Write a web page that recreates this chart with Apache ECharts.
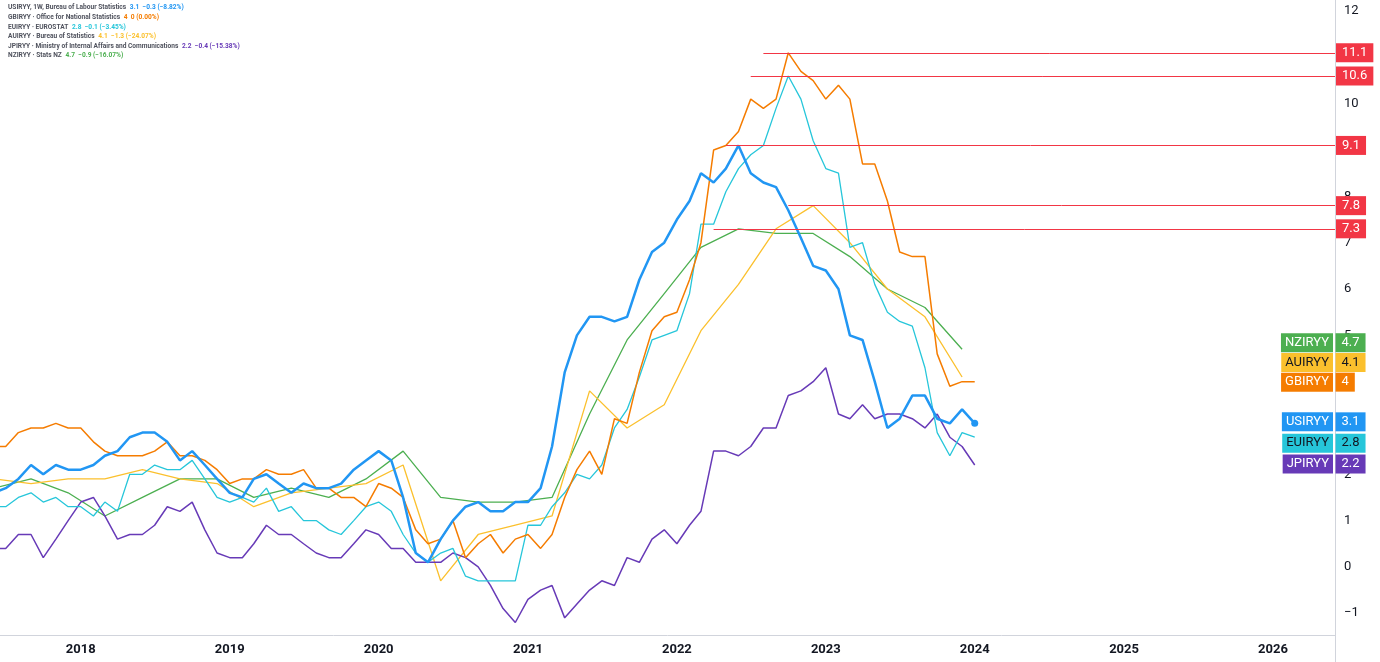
<!DOCTYPE html>
<html><head><meta charset="utf-8">
<script src="https://cdn.jsdelivr.net/npm/echarts@6/dist/echarts.min.js"></script>
<style>html,body{margin:0;padding:0;background:#fff;overflow:hidden}#c{width:1380px;height:662px}</style>
</head><body><div id="c"></div>
<script>
// ---- data (year-over-year inflation, %) ----
const monthlyStart = [2017, 1];   // first monthly observation (year, month)
const quarterlyStart = [2017, 3]; // first quarterly observation (quarter-end month)

const usValues = [
  2.5,2.7,2.4,2.2,1.9,1.6,1.7,1.9,2.2,2.0,2.2,2.1,
  2.1,2.2,2.4,2.5,2.8,2.9,2.9,2.7,2.3,2.5,2.2,1.9,
  1.6,1.5,1.9,2.0,1.8,1.6,1.8,1.7,1.7,1.8,2.1,2.3,
  2.5,2.3,1.5,0.3,0.1,0.6,1.0,1.3,1.4,1.2,1.2,1.4,
  1.4,1.7,2.6,4.2,5.0,5.4,5.4,5.3,5.4,6.2,6.8,7.0,
  7.5,7.9,8.5,8.3,8.6,9.1,8.5,8.3,8.2,7.7,7.1,6.5,
  6.4,6.0,5.0,4.9,4.0,3.0,3.2,3.7,3.7,3.2,3.1,3.4,
  3.1];
const gbValues = [
  1.8,2.3,2.3,2.7,2.9,2.6,2.6,2.9,3.0,3.0,3.1,3.0,
  3.0,2.7,2.5,2.4,2.4,2.4,2.5,2.7,2.4,2.4,2.3,2.1,
  1.8,1.9,1.9,2.1,2.0,2.0,2.1,1.7,1.7,1.5,1.5,1.3,
  1.8,1.7,1.5,0.8,0.5,0.6,1.0,0.2,0.5,0.7,0.3,0.6,
  0.7,0.4,0.7,1.5,2.1,2.5,2.0,3.2,3.1,4.2,5.1,5.4,
  5.5,6.2,7.0,9.0,9.1,9.4,10.1,9.9,10.1,11.1,10.7,10.5,
  10.1,10.4,10.1,8.7,8.7,7.9,6.8,6.7,6.7,4.6,3.9,4.0,
  4.0];
const euValues = [
  1.8,2.0,1.5,1.9,1.4,1.3,1.3,1.5,1.6,1.4,1.5,1.3,
  1.3,1.1,1.4,1.2,2.0,2.0,2.2,2.1,2.1,2.3,1.9,1.5,
  1.4,1.5,1.4,1.7,1.2,1.3,1.0,1.0,0.8,0.7,1.0,1.3,
  1.4,1.2,0.7,0.3,0.1,0.3,0.4,-0.2,-0.3,-0.3,-0.3,-0.3,
  0.9,0.9,1.3,1.6,2.0,1.9,2.2,3.0,3.4,4.1,4.9,5.0,
  5.1,5.9,7.4,7.4,8.1,8.6,8.9,9.1,9.9,10.6,10.1,9.2,
  8.6,8.5,6.9,7.0,6.1,5.5,5.3,5.2,4.3,2.9,2.4,2.9,
  2.8];
const jpValues = [
  0.4,0.3,0.2,0.4,0.4,0.4,0.4,0.7,0.7,0.2,0.6,1.0,
  1.4,1.5,1.1,0.6,0.7,0.7,0.9,1.3,1.2,1.4,0.8,0.3,
  0.2,0.2,0.5,0.9,0.7,0.7,0.5,0.3,0.2,0.2,0.5,0.8,
  0.7,0.4,0.4,0.1,0.1,0.1,0.3,0.2,0.0,-0.4,-0.9,-1.2,
  -0.7,-0.5,-0.4,-1.1,-0.8,-0.5,-0.3,-0.4,0.2,0.1,0.6,0.8,
  0.5,0.9,1.2,2.5,2.5,2.4,2.6,3.0,3.0,3.7,3.8,4.0,
  4.3,3.3,3.2,3.5,3.2,3.3,3.3,3.2,3.0,3.3,2.8,2.6,
  2.2];
const auValues = [
  2.1,1.9,1.8,1.9, 1.9,2.1,1.9,1.8, 1.3,1.6,1.7,1.8,
  2.2,-0.3,0.7,0.9, 1.1,3.8,3.0,3.5, 5.1,6.1,7.3,7.8,
  7.0,6.0,5.4,4.1];
const nzValues = [
  2.2,1.7,1.9,1.6, 1.1,1.5,1.9,1.9, 1.5,1.7,1.5,1.9,
  2.5,1.5,1.4,1.4, 1.5,3.3,4.9,5.9, 6.9,7.3,7.2,7.2,
  6.7,6.0,5.6,4.7];

const yearTicks = [2018,2019,2020,2021,2022,2023,2024,2025,2026];
const priceTicks = [-1,0,1,2,5,6,7,8,10,12]; // others hidden behind price tags
const rayValues = [11.1, 10.6, 9.1, 7.8, 7.3];
const rayStartMonths = ['2022-08','2022-07','2022-05','2022-10','2022-04'];

// ---- helpers ----
const monthTs = (y, m) => Date.UTC(y, m - 1, 1);
function monthlyPairs(vals){ return vals.map((v,i)=>[Date.UTC(monthlyStart[0], monthlyStart[1]-1+i, 1), v]); }
function quarterlyPairs(vals){ return vals.map((v,i)=>[Date.UTC(quarterlyStart[0], quarterlyStart[1]-1+3*i, 1), v]); }
const xMin = Date.UTC(2017, 5, 17);
const xMax = Date.UTC(2026, 5, 2);

function fmtNum(v){ const r = Math.round(v*100)/100; return (r < 0 ? '\u2212' : '') + String(Math.abs(r)); }
function fmtPct(v){ const s = Math.abs(v).toFixed(2); return (v < -0.0001 ? '\u2212' : '') + s + '%'; }

const seriesDefs = [
  {key:'nz', name:'NZIRYY', desc:'NZIRYY \u00b7 Stats NZ', color:'#4caf50', text:'#fff', width:1.3, data:quarterlyPairs(nzValues), raw:nzValues, dy:-6.5},
  {key:'au', name:'AUIRYY', desc:'AUIRYY \u00b7 Bureau of Statistics', color:'#fbc02d', text:'#131722', width:1.3, data:quarterlyPairs(auValues), raw:auValues, dy:-14.5},
  {key:'jp', name:'JPIRYY', desc:'JPIRYY \u00b7 Ministry of Internal Affairs and Communications', color:'#673ab7', text:'#fff', width:1.5, data:monthlyPairs(jpValues), raw:jpValues, dy:-1},
  {key:'eu', name:'EUIRYY', desc:'EUIRYY \u00b7 EUROSTAT', color:'#26c6da', text:'#131722', width:1.3, data:monthlyPairs(euValues), raw:euValues, dy:6},
  {key:'gb', name:'GBIRYY', desc:'GBIRYY \u00b7 Office for National Statistics', color:'#f57c00', text:'#fff', width:1.5, data:monthlyPairs(gbValues), raw:gbValues, dy:0.5},
  {key:'us', name:'USIRYY', desc:'USIRYY, 1W, Bureau of Labour Statistics', color:'#2196f3', text:'#fff', width:2.5, data:monthlyPairs(usValues), raw:usValues, dy:-1.5, dot:true}
];
const legendOrder = ['us','gb','eu','au','jp','nz'];

// legend text (top-left)
const LFS = 6.6, LLH = 9.6;
const rich = { n: {color:'#50535e', fontSize:LFS, lineHeight:LLH, fontFamily:'Roboto'} };
const legendLines = legendOrder.map(k => {
  const d = seriesDefs.find(s => s.key === k);
  const last = d.raw[d.raw.length-1], prev = d.raw[d.raw.length-2];
  const chg = Math.round((last - prev)*100)/100;
  rich[k] = {color:d.color, fontSize:LFS, lineHeight:LLH, fontFamily:'Roboto'};
  return '{n|' + d.desc + '}  {' + k + '|' + fmtNum(last) + '  ' + fmtNum(chg) + ' (' + fmtPct(chg/prev*100) + ')}';
});

const nameLabel = {fontSize:13, fontFamily:'Roboto', lineHeight:13, padding:[3,4,3,4]};
const valueLabel = {fontSize:13, fontFamily:'Roboto', lineHeight:13, padding:[3,6,3,6]};

const series = seriesDefs.map(d => {
  const last = d.data[d.data.length-1];
  const mp = [
    {coord:[xMax, last[1]], symbol:'circle', symbolSize:1, itemStyle:{color:'rgba(0,0,0,0)'},
     label:Object.assign({show:true, position:'left', distance:1.5, offset:[0,d.dy], formatter:d.name,
       backgroundColor:d.color, color:d.text}, nameLabel)},
    {coord:[xMax, last[1]], symbol:'circle', symbolSize:1, itemStyle:{color:'rgba(0,0,0,0)'},
     label:Object.assign({show:true, position:'right', distance:0, offset:[0,d.dy], formatter:fmtNum(last[1]),
       backgroundColor:d.color, color:d.text}, valueLabel)}
  ];
  if (d.dot) mp.push({coord:last, symbol:'circle', symbolSize:7, itemStyle:{color:d.color}, label:{show:false}});
  const s = {
    type:'line', name:d.name, data:d.data, showSymbol:false, symbol:'none', clip:false, z: 2,
    lineStyle:{color:d.color, width:d.width}, itemStyle:{color:d.color},
    emphasis:{disabled:true}, silent:true, animation:false,
    markPoint:{silent:true, animation:false, data:mp}
  };
  if (d.key === 'us') {
    s.markLine = {
      silent:true, animation:false, symbol:['none','none'],
      lineStyle:{color:'#f23645', width:1, type:'solid'},
      emphasis:{disabled:true},
      label:{show:true, position:'end', distance:1, color:'#fff', backgroundColor:'#f23645',
        fontSize:13, fontFamily:'Roboto', lineHeight:13, padding:[3,6,3,6],
        formatter:p => p.name},
      data: rayValues.map((v,i)=>{
        const [yy,mm] = rayStartMonths[i].split('-').map(Number);
        return [{coord:[monthTs(yy,mm), v], name:fmtNum(v)}, {coord:[xMax, v]}];
      })
    };
  }
  return s;
});

const chart = echarts.init(document.getElementById('c'), null, {renderer:'canvas'});
chart.setOption({
  animation:false,
  backgroundColor:'#ffffff',
  title:{left:3, top:-2, text:legendLines.join('\n'), textStyle:{rich:rich, fontSize:LFS, lineHeight:LLH}},
  grid:{left:0, right:45, top:0, bottom:27, containLabel:false},
  xAxis:{
    type:'value', min:xMin, max:xMax,
    axisLine:{show:true, onZero:false, lineStyle:{color:'#d1d4dc', width:1}},
    axisTick:{show:false}, splitLine:{show:false},
    axisLabel:{customValues:yearTicks.map(y=>Date.UTC(y,0,1)), formatter:v=>String(new Date(v).getUTCFullYear()),
      color:'#131722', fontSize:13, fontWeight:'bold', fontFamily:'Roboto', margin:8}
  },
  yAxis:{
    type:'value', position:'right', min:-1.47, max:12.24,
    axisLine:{show:true, onZero:false, lineStyle:{color:'#d1d4dc', width:1}},
    axisTick:{show:false}, splitLine:{show:false},
    axisLabel:{customValues:priceTicks, color:'#131722', fontSize:13, fontFamily:'Roboto', margin:9,
      formatter:v => fmtNum(v)}
  },
  series: series
});
// extend the price-scale separator down through the time-scale strip
const sepX = Math.round(chart.convertToPixel({xAxisIndex:0}, xMax)) + 0.5;
chart.setOption({graphic:[{type:'line', silent:true, z:-1,
  shape:{x1:sepX, y1:0, x2:sepX, y2:chart.getHeight()}, style:{stroke:'#d1d4dc', lineWidth:1}}]});
</script></body></html>
